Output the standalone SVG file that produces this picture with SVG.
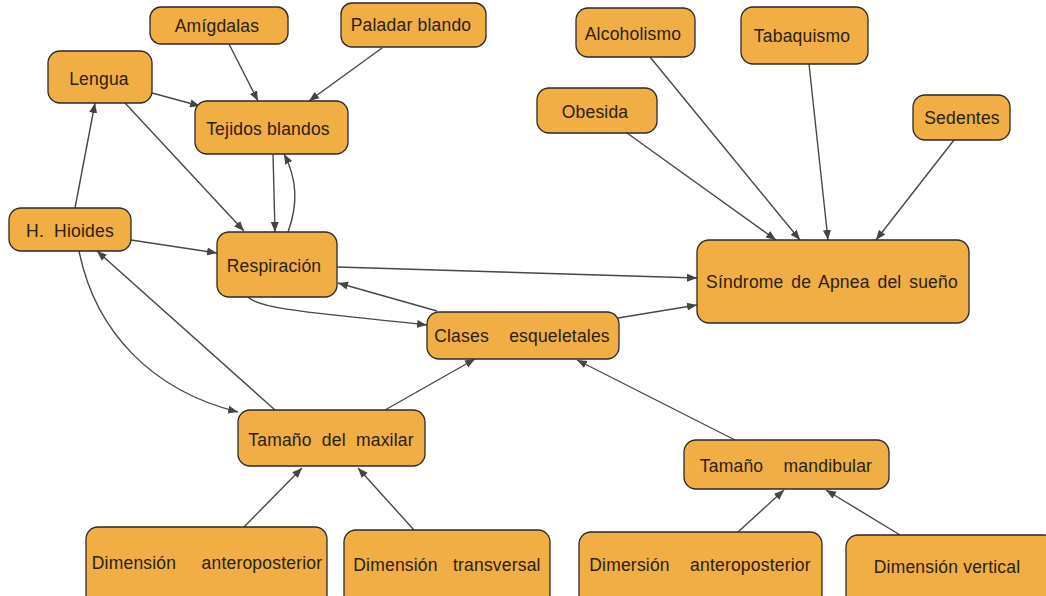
<svg xmlns="http://www.w3.org/2000/svg" width="1046" height="596" viewBox="0 0 1046 596">
<defs>
<marker id="ah" viewBox="0 0 10 10" refX="10" refY="5" markerWidth="10" markerHeight="10" markerUnits="userSpaceOnUse" orient="auto">
<path d="M0,1 L10,5 L0,9 Z" fill="#444"/>
</marker>
<style>
.n rect{fill:#F0AE45;stroke:#2a2a2a;stroke-width:1.3}
.n text{font-family:"Liberation Sans",Arial,sans-serif;font-size:17.5px;letter-spacing:0.2px;fill:#2a2214;text-anchor:middle}
.c path{fill:none;stroke:#484848;stroke-width:1.4;marker-end:url(#ah)}
</style>
</defs>
<rect width="1046" height="596" fill="#fff"/>
<g class="c" id="connectors">
<path d="M229,44 L258,101"/>
<path d="M382,48 L309,101"/>
<path d="M152,93 L200,106"/>
<path d="M125,103 L244,231"/>
<path d="M273,154 L275,232"/>
<path d="M288,232 C298,205 298,180 284,154"/>
<path d="M75,208 L95,103"/>
<path d="M131,240 L217,253"/>
<path d="M337,267 L697,278"/>
<path d="M248,297 C260,310 330,314 427,325"/>
<path d="M437,311 L338,283"/>
<path d="M618,318 L697,305"/>
<path d="M79,251 C95,330 150,390 238,412"/>
<path d="M275,410 L97,251"/>
<path d="M385,410 L475,359"/>
<path d="M244,527 L302,468"/>
<path d="M414,530 L358,468"/>
<path d="M735,440 L577,360"/>
<path d="M738,532 L784,490"/>
<path d="M900,535 L826,490"/>
<path d="M627,133 L776,240"/>
<path d="M650,57 L800,240"/>
<path d="M809,64 L828,240"/>
<path d="M954,140 L876,240"/>
</g>
<g class="n" id="amigdalas"><rect x="150" y="7" width="138" height="37" rx="11"/><text x="217" y="32">Amígdalas</text></g>
<g class="n" id="paladar"><rect x="341" y="3" width="145" height="44" rx="11"/><text x="411" y="31">Paladar blando</text></g>
<g class="n" id="lengua"><rect x="48" y="51" width="104" height="52" rx="12"/><text x="99" y="85">Lengua</text></g>
<g class="n" id="tejidos"><rect x="195" y="101" width="153" height="53" rx="12"/><text x="268" y="135">Tejidos blandos</text></g>
<g class="n" id="hioides"><rect x="9" y="208" width="122" height="43" rx="12"/><text x="70" y="237" xml:space="preserve">H.  Hioides</text></g>
<g class="n" id="respiracion"><rect x="217" y="232" width="120" height="65" rx="12"/><text x="274" y="272">Respiración</text></g>
<g class="n" id="clases"><rect x="427" y="312" width="192" height="47" rx="12"/><text x="522" y="342" xml:space="preserve">Clases    esqueletales</text></g>
<g class="n" id="alcoholismo"><rect x="576" y="8" width="119" height="49" rx="12"/><text x="633" y="40">Alcoholismo</text></g>
<g class="n" id="tabaquismo"><rect x="741" y="7" width="127" height="57" rx="12"/><text x="802" y="42">Tabaquismo</text></g>
<g class="n" id="obesida"><rect x="537" y="88" width="120" height="45" rx="12"/><text x="595" y="118">Obesida</text></g>
<g class="n" id="sedentes"><rect x="913" y="95" width="97" height="45" rx="12"/><text x="962" y="124">Sedentes</text></g>
<g class="n" id="sindrome"><rect x="697" y="240" width="272" height="83" rx="12"/><text x="832" y="288" style="word-spacing:2.75px">Síndrome de Apnea del sueño</text></g>
<g class="n" id="maxilar"><rect x="238" y="410" width="187" height="56" rx="12"/><text x="331" y="446" xml:space="preserve">Tamaño  del  maxilar</text></g>
<g class="n" id="mandibular"><rect x="684" y="440" width="205" height="49" rx="12"/><text x="786" y="472" xml:space="preserve">Tamaño    mandibular</text></g>
<g class="n" id="dimap1"><rect x="86" y="527" width="241" height="80" rx="12"/><text x="207" y="569" xml:space="preserve">Dimensión     anteroposterior</text></g>
<g class="n" id="dimtrans"><rect x="344" y="530" width="206" height="77" rx="12"/><text x="447" y="571" xml:space="preserve">Dimensión   transversal</text></g>
<g class="n" id="dimap2"><rect x="579" y="532" width="243" height="75" rx="12"/><text x="700" y="571" xml:space="preserve">Dimersión    anteroposterior</text></g>
<g class="n" id="dimvert"><rect x="846" y="535" width="210" height="72" rx="12"/><text x="947" y="573">Dimensión vertical</text></g>
</svg>
